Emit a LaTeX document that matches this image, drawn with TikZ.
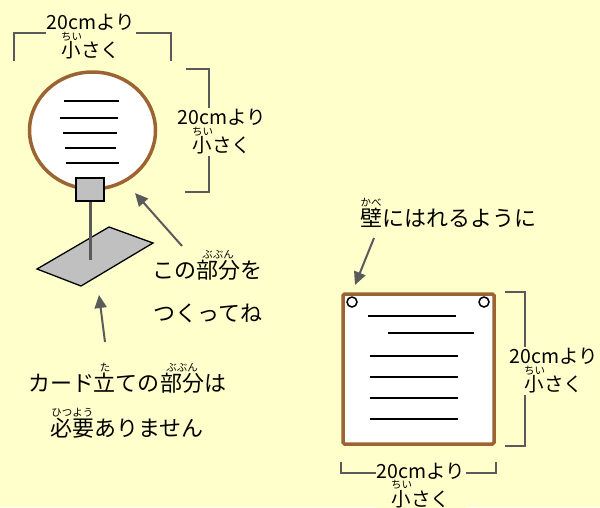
\documentclass[tikz,border=0pt]{standalone}
\usepackage{fontspec}
\setmainfont{Noto Sans CJK JP}
\usetikzlibrary{arrows.meta,positioning}
\definecolor{bgyellow}{RGB}{255,255,204}
\definecolor{framebrown}{RGB}{155,100,50}
\definecolor{standgray}{RGB}{192,192,192}
\definecolor{darkline}{RGB}{90,90,90}
\newcommand{\dimfont}{\fontsize{19.5}{23}\selectfont}
\newcommand{\notefont}{\fontsize{22}{26}\selectfont}
\newcommand{\rubyfont}{\fontsize{10.5}{10.5}\selectfont}
\newcommand{\furi}[2]{\leavevmode\setbox0\hbox{#1}\vbox{\offinterlineskip\hbox to\wd0{\hss{\rubyfont #2}\hss}\kern1pt\box0}}
\tikzstyle{dimline}=[draw=darkline, line width=1.6pt]
\tikzstyle{dimlabel}=[fill=bgyellow, inner sep=1pt, align=center, font=\dimfont]
\tikzstyle{note}=[font=\notefont, inner sep=0pt, anchor=base]
\tikzstyle{pointer}=[draw=darkline, line width=2pt, -{Triangle[length=13pt,width=12pt]}]
\tikzstyle{textline}=[draw, line width=1.6pt]
\tikzstyle{standbox}=[draw, fill=standgray, line width=1.3pt, minimum width=28pt, minimum height=23pt, inner sep=0pt]

\begin{document}
\begin{tikzpicture}[x=1pt, y=-1pt]
    % background and page size
    \fill[bgyellow] (0,0) rectangle (600,507);
    \useasboundingbox (0,0) rectangle (600,507);

    % round card on its stand
    \draw[framebrown, line width=3.5pt, fill=white] (92.5,130.5) ellipse (63 and 58.5);
    \foreach \y/\a/\b in {101/64/119, 118/60/118, 133/63/117, 148/65/116, 163/66/119}
        \path[textline] (\a,\y) -- (\b,\y);
    \draw[fill=standgray, line width=1.3pt] (37,269) -- (109,227) -- (153,243) -- (81,286) -- cycle;
    \coordinate (stickend) at (90,260);
    \node[standbox] (holder) at (90,189.5) {};
    \draw[darkline, line width=3pt] (holder.south) -- (stickend);

    % square card
    \node[draw=framebrown, line width=3.5pt, fill=white, rounded corners=1.5pt,
          minimum width=151pt, minimum height=150pt] (card) at (418.5,369) {};
    \foreach \y/\a/\b in {316/368/456, 333/388/474, 356/370/458, 377/370/458, 398/370/458, 419/370/458}
        \path[textline] (\a,\y) -- (\b,\y);
    \foreach \x in {352,484}
        \draw[line width=1.5pt, fill=white] (\x,302) circle (5);

    % size brackets
    \path[dimline] (14,61) -- (14,33) -- (171,33) -- (171,61);
    \node[dimlabel] (topsize) at (91,37) {20cmより\\\furi{小}{ちい}さく};
    \path[dimline] (186,69) -- (209,69) -- (209,192) -- (185,192);
    \node[dimlabel] (roundsize) at (222,132) {20cmより\\\furi{小}{ちい}さく};
    \path[dimline] (505,292) -- (525,292) -- (525,446) -- (505,446);
    \node[dimlabel] (sidesize) at (554,371) {20cmより\\\furi{小}{ちい}さく};
    \path[dimline] (341,462) -- (341,473) -- (496,473) -- (496,462);
    \node[dimlabel] (bottomsize) at (421,485.5) {20cmより\\\furi{小}{ちい}さく};

    % notes
    \node[note] (makeA) at (207,278) {この\furi{部分}{ぶぶん}を};
    \node[note] (makeB) at (208,321) {つくってね};
    \node[note] (standA) at (127,391) {カード\furi{立}{た}ての\furi{部分}{ぶぶん}は};
    \node[note] (standB) at (127,436) {\furi{必要}{ひつよう}ありません};
    \node[note] (wall) at (448,226) {\furi{壁}{かべ}にはれるように};

    % arrows
    \coordinate (tailA) at (182,246);
    \coordinate (tipA) at (135,193);
    \coordinate (tailB) at (105,342);
    \coordinate (tipB) at (99,295);
    \coordinate (tailC) at (374,238);
    \coordinate (tipC) at (355,285);
    \draw[pointer] (tailA) -- (tipA);
    \draw[pointer] (tailB) -- (tipB);
    \draw[pointer] (tailC) -- (tipC);
\end{tikzpicture}
\end{document}
